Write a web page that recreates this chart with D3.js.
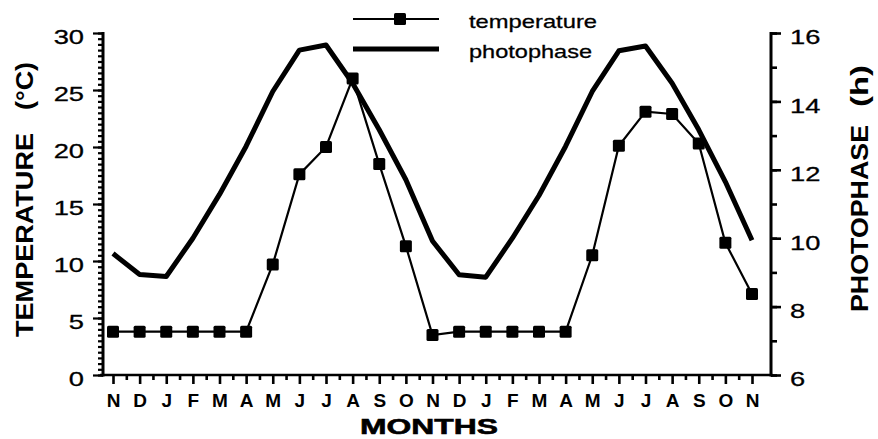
<!DOCTYPE html>
<html>
<head>
<meta charset="utf-8">
<script src="https://cdn.jsdelivr.net/npm/d3@7"></script>
<style>
  html, body { margin: 0; padding: 0; background: #fff; }
  svg { display: block; font-family: "Liberation Sans", Arial, Helvetica, sans-serif; }
</style>
</head>
<body>
<svg id="chart" width="878" height="439"></svg>
<script>
// ---- data ----
const months = ["N","D","J","F","M","A","M","J","J","A","S","O","N","D","J","F","M","A","M","J","J","A","S","O","N"];
const temperature = [3.8,3.8,3.8,3.8,3.8,3.8,9.7,17.6,20.0,26.0,18.5,11.3,3.5,3.8,3.8,3.8,3.8,3.8,10.5,20.1,23.1,22.9,20.3,11.6,7.1];
const photophase = [9.55,8.94,8.88,10.0,11.28,12.69,14.29,15.5,15.65,14.53,13.17,11.71,9.92,8.93,8.86,10.0,11.25,12.69,14.29,15.48,15.62,14.53,13.17,11.65,9.94];
const tempTicks = [0,5,10,15,20,25,30];
const photoTicks = [6,8,10,12,14,16];
const legendLabels = ["temperature","photophase"];

// ---- layout ----
const W = 878, H = 439;
const axL = 103, axR = 771, axB = 375, axT = 33;
const firstX = 113, lastX = 752;

const svg = d3.select("#chart");

const x = d3.scaleLinear().domain([0, months.length - 1]).range([firstX, lastX]);
const yT = d3.scaleLinear().domain([0, 30]).range([axB, axT]);
const yP = d3.scaleLinear().domain([6, 16]).range([axB, axT]);

function widen(sel, k) {
  sel.each(function () {
    const w = this.getComputedTextLength();
    d3.select(this).attr("textLength", w * k).attr("lengthAdjust", "spacingAndGlyphs");
  });
}

// ---- left axis ----
const gL = svg.append("g").attr("transform", `translate(${axL},0)`);
gL.call(d3.axisLeft(yT).tickValues(d3.range(0, 30.01, 0.5)).tickSize(5).tickFormat(""))
  .call(g => g.select(".domain").remove());
gL.append("g").call(d3.axisLeft(yT).tickValues(tempTicks).tickSize(10).tickPadding(9))
  .call(g => g.select(".domain").remove());
gL.selectAll(".tick line").attr("stroke", "#000").attr("stroke-width", 2.2);
gL.selectAll(".tick text").attr("font-size", 21).attr("fill", "#000")
  .attr("stroke", "#000").attr("stroke-width", 0.3)
  .attr("dy", "0.52em").attr("font-family", "Liberation Sans, Arial, sans-serif");
widen(gL.selectAll(".tick text"), 1.3);

// ---- right axis ----
const gR = svg.append("g").attr("transform", `translate(${axR},0)`);
gR.call(d3.axisRight(yP).tickValues(d3.range(6, 16.01, 1)).tickSize(6).tickFormat(""))
  .call(g => g.select(".domain").remove());
gR.append("g").call(d3.axisRight(yP).tickValues(photoTicks).tickSize(10).tickPadding(9))
  .call(g => g.select(".domain").remove());
gR.selectAll(".tick line").attr("stroke", "#000").attr("stroke-width", 2.6);
gR.selectAll(".tick text").attr("font-size", 21).attr("fill", "#000")
  .attr("stroke", "#000").attr("stroke-width", 0.3)
  .attr("dy", "0.52em").attr("font-family", "Liberation Sans, Arial, sans-serif");
widen(gR.selectAll(".tick text"), 1.3);

// ---- bottom axis ----
const gB = svg.append("g").attr("transform", `translate(0,${axB})`);
gB.call(d3.axisBottom(x).tickValues(d3.range(0.5, months.length - 1, 1)).tickSize(5).tickFormat(""))
  .call(g => g.select(".domain").remove());
gB.append("g").call(d3.axisBottom(x).tickValues(d3.range(months.length)).tickSize(9)
    .tickFormat(i => months[i]))
  .call(g => g.select(".domain").remove());
gB.selectAll(".tick line").attr("stroke", "#000").attr("stroke-width", 2.6);
gB.selectAll(".tick text").attr("font-size", 19).attr("font-weight", "bold").attr("fill", "#000")
  .attr("y", 32).attr("dy", 0).attr("font-family", "Liberation Sans, Arial, sans-serif");

// axis lines
svg.append("line").attr("x1", axL).attr("x2", axL).attr("y1", axT - 1).attr("y2", axB + 1.5)
  .attr("stroke", "#000").attr("stroke-width", 3);
svg.append("line").attr("x1", axR).attr("x2", axR).attr("y1", axT - 1).attr("y2", axB + 1.5)
  .attr("stroke", "#000").attr("stroke-width", 3);
svg.append("line").attr("x1", axL - 3).attr("x2", axR + 1.5).attr("y1", axB).attr("y2", axB)
  .attr("stroke", "#000").attr("stroke-width", 2.6);

// ---- series ----
const idx = d3.range(months.length);
const linePhoto = d3.line().x(i => x(i)).y(i => yP(photophase[i]));
const lineTemp = d3.line().x(i => x(i)).y(i => yT(temperature[i]));

svg.append("path").attr("d", linePhoto(idx)).attr("fill", "none")
  .attr("stroke", "#000").attr("stroke-width", 5).attr("stroke-linejoin", "round");
svg.append("path").attr("d", lineTemp(idx)).attr("fill", "none")
  .attr("stroke", "#000").attr("stroke-width", 2.2);
const ms = 12;
svg.append("g").selectAll("rect").data(idx).join("rect")
  .attr("x", i => x(i) - ms / 2).attr("y", i => yT(temperature[i]) - ms / 2)
  .attr("width", ms).attr("height", ms).attr("rx", 1.5).attr("fill", "#000");

// ---- legend ----
const lg = svg.append("g");
lg.append("line").attr("x1", 353).attr("x2", 439).attr("y1", 19).attr("y2", 19)
  .attr("stroke", "#000").attr("stroke-width", 2.2);
lg.append("rect").attr("x", 400 - 6).attr("y", 19 - 6).attr("width", 12).attr("height", 12)
  .attr("rx", 1.5).attr("fill", "#000");
lg.append("line").attr("x1", 353).attr("x2", 439).attr("y1", 49).attr("y2", 49)
  .attr("stroke", "#000").attr("stroke-width", 5);
lg.append("text").attr("x", 469).attr("y", 28).attr("font-size", 19).text(legendLabels[0])
  .attr("stroke", "#000").attr("stroke-width", 0.3)
  .attr("textLength", 128).attr("lengthAdjust", "spacingAndGlyphs");
lg.append("text").attr("x", 469).attr("y", 58).attr("font-size", 19).text(legendLabels[1])
  .attr("stroke", "#000").attr("stroke-width", 0.3)
  .attr("textLength", 123).attr("lengthAdjust", "spacingAndGlyphs");

// ---- axis titles ----
svg.append("text").attr("transform", "translate(33,0) rotate(-90)")
  .attr("x", -337).attr("y", 0).attr("font-size", 24).attr("font-weight", "bold")
  .attr("textLength", 204).attr("lengthAdjust", "spacingAndGlyphs").text("TEMPERATURE");
svg.append("text").attr("transform", "translate(33,0) rotate(-90)")
  .attr("x", -110).attr("y", 0).attr("font-size", 24).attr("font-weight", "bold")
  .attr("textLength", 48).attr("lengthAdjust", "spacingAndGlyphs").text("(°C)");

svg.append("text").attr("transform", "translate(868,0) rotate(-90)")
  .attr("x", -312).attr("y", 0).attr("font-size", 24).attr("font-weight", "bold")
  .attr("textLength", 187).attr("lengthAdjust", "spacingAndGlyphs").text("PHOTOPHASE");
svg.append("text").attr("transform", "translate(868,0) rotate(-90)")
  .attr("x", -107).attr("y", 0).attr("font-size", 24).attr("font-weight", "bold")
  .attr("textLength", 42).attr("lengthAdjust", "spacingAndGlyphs").text("(h)");

svg.append("text").attr("x", 360).attr("y", 434).attr("font-size", 22).attr("font-weight", "bold")
  .attr("stroke", "#000").attr("stroke-width", 0.6)
  .attr("textLength", 138).attr("lengthAdjust", "spacingAndGlyphs").text("MONTHS");
</script>
</body>
</html>
